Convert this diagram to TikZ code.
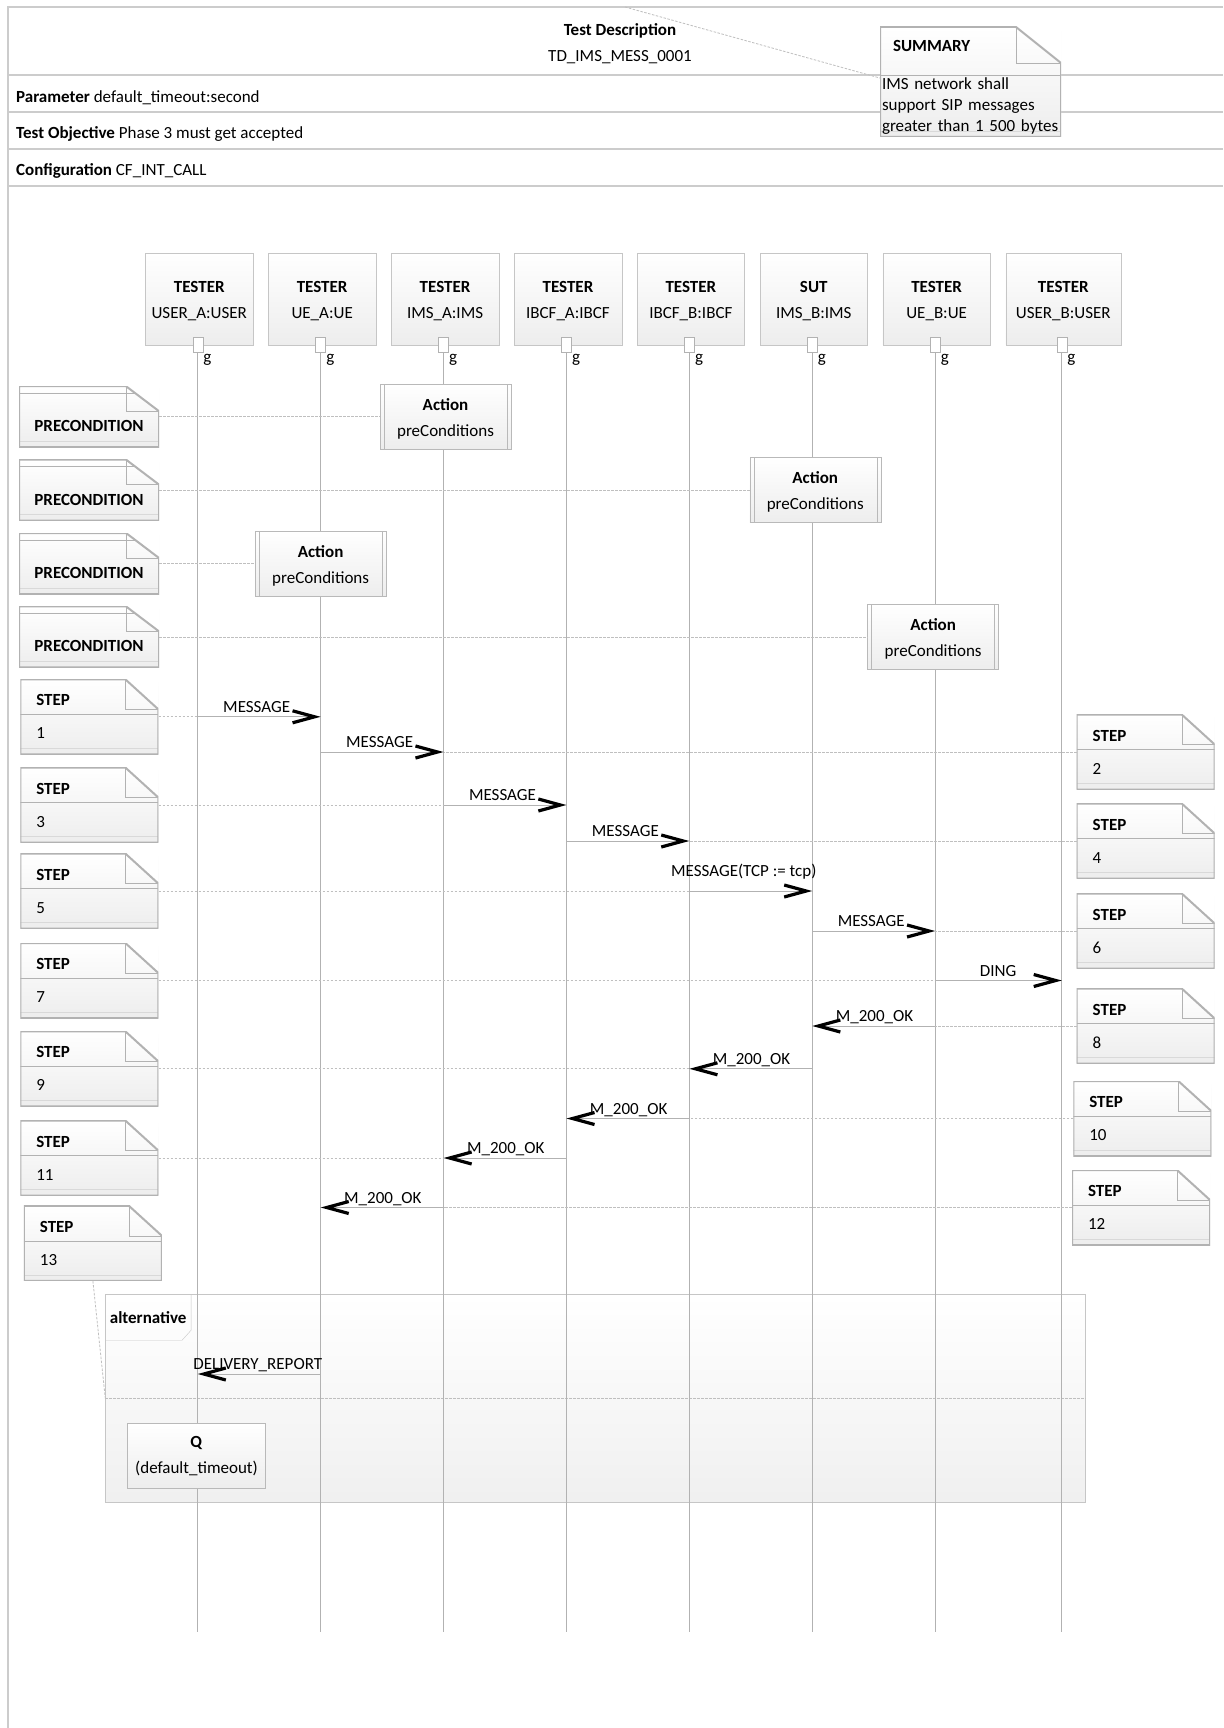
\documentclass[tikz,border=0pt]{standalone}
\usepackage{fontspec}
\setmainfont{Carlito}
\usetikzlibrary{arrows.meta,positioning}

\begin{document}
\begin{tikzpicture}[x=1pt, y=-1pt,
    font=\fontsize{17}{26}\selectfont,
    rowline/.style={draw=gray!40, line width=1.2pt},
    life/.style={rectangle, draw=gray!45, top color=white, bottom color=gray!14, minimum width=107.5pt, minimum height=92pt, inner sep=0pt, align=center, text height=41pt},
    port/.style={rectangle, draw=gray!60, fill=white, minimum width=10pt, minimum height=15pt, inner sep=0pt, label={[anchor=north west, inner sep=1pt]-60:g}},
    lifeline/.style={draw=gray!60, line width=0.8pt},
    action/.style={rectangle, draw=gray!55, top color=white, bottom color=gray!14, minimum width=131pt, minimum height=65pt, inner sep=0pt, align=center, text height=42pt,
        path picture={\draw[gray!55] ([xshift=4pt]path picture bounding box.north west) -- ([xshift=4pt]path picture bounding box.south west)
            ([xshift=-4pt]path picture bounding box.north east) -- ([xshift=-4pt]path picture bounding box.south east);}},
    qbox/.style={rectangle, draw=gray!55, top color=white, bottom color=gray!14, minimum width=138pt, minimum height=65pt, inner sep=0pt, align=center},
    altbox/.style={rectangle, draw=gray!45, top color=white, bottom color=gray!12, minimum width=980pt, minimum height=208pt},
    note/.style n args={3}{rectangle, top color=white, bottom color=gray!14, inner sep=0pt,
        path picture={
            \coordinate (pnw) at (path picture bounding box.north west);
            \coordinate (pne) at (path picture bounding box.north east);
            \coordinate (pse) at (path picture bounding box.south east);
            \coordinate (psw) at (path picture bounding box.south west);
            \draw[gray!60] ([yshift=-#1]pnw) -- ([yshift=-#1]pne);
            \draw[gray!30] ([yshift=6pt]psw) -- ([yshift=6pt]pse);
            \fill[white] ([xshift=-#2]pne) -- (pne) -- ([yshift=-#3]pne) -- cycle;
            \draw[gray!60, line width=2pt] (pnw) -- ([xshift=-#2]pne) -- ([yshift=-#3]pne) -- (pse) -- (psw) -- cycle;
            \draw[gray!60] ([xshift=-#2]pne) |- ([yshift=-#3]pne);
        }},
    stepnote/.style={note={35pt}{33pt}{30pt}, minimum width=137.5pt, minimum height=75pt, align=left, text width=106pt, inner xsep=16pt},
    precond/.style={note={7pt}{33pt}{25pt}, minimum width=140pt, minimum height=61pt, text height=33pt, text depth=3pt},
    link/.style={draw=gray!50, line width=0.8pt, dash pattern=on 2.5pt off 1.5pt},
    msg/.style={draw=gray!60, line width=1pt, -{Straight Barb[length=22pt, width=12pt, line width=3.2pt, color=black]}},
    fwd/.style={anchor=base east, inner sep=0pt, xshift=-30pt, yshift=4.5pt},
    bwd/.style={anchor=base west, inner sep=0pt, xshift=23pt, yshift=4.5pt}
]
    \fill[white] (0,0) rectangle (1223,1728);
    \useasboundingbox (0,0) rectangle (1223,1728);

    \draw[rowline] (1223,7) -- (8,7) -- (8,1728);
    \draw[rowline] (8,75) -- (1223,75);
    \draw[rowline] (8,112) -- (1223,112);
    \draw[rowline] (8,149) -- (1223,149);
    \draw[rowline] (8,186) -- (1223,186);

    \node (title) [align=center] at (620,43.5) {\textbf{Test Description}\\TD\_IMS\_MESS\_0001};
    \node (par) [anchor=base west, inner sep=0pt] at (16,102.5) {\textbf{Parameter} default\_timeout:second};
    \node (obj) [anchor=base west, inner sep=0pt] at (16,138.5) {\textbf{Test Objective} Phase 3 must get accepted};
    \node (cfg) [anchor=base west, inner sep=0pt] at (16,175.5) {\textbf{Configuration} CF\_INT\_CALL};

    \node (sum) [note={48pt}{45pt}{36pt}, minimum width=181pt, minimum height=110pt, inner xsep=2pt, text width=177pt, align=left, text height=21pt, font=\fontsize{17}{21}\selectfont] at (970.5,82) {\hspace*{11pt}\textbf{SUMMARY}\\[17pt]IMS network shall\\support SIP messages\\greater than 1 500 bytes};
    \coordinate (top) at (625,7);
    \draw[link] (top) -- ([yshift=4pt]sum.west);

    \node (l1) [life] at (199.25,298.8) {\textbf{TESTER}\\USER\_A:USER};
    \node (l2) [life, right=15pt of l1] {\textbf{TESTER}\\UE\_A:UE};
    \node (l3) [life, right=15pt of l2] {\textbf{TESTER}\\IMS\_A:IMS};
    \node (l4) [life, right=15pt of l3] {\textbf{TESTER}\\IBCF\_A:IBCF};
    \node (l5) [life, right=15pt of l4] {\textbf{TESTER}\\IBCF\_B:IBCF};
    \node (l6) [life, right=15pt of l5] {\textbf{SUT}\\IMS\_B:IMS};
    \node (l7) [life, right=15pt of l6] {\textbf{TESTER}\\UE\_B:UE};
    \node (l8) [life, right=15pt of l7, minimum width=115pt] {\textbf{TESTER}\\USER\_B:USER};

    \node (g1) [port] at ([xshift=-1.5pt]l1.south) {};
    \node (g2) [port] at ([xshift=-1.5pt]l2.south) {};
    \node (g3) [port] at ([xshift=-1.5pt]l3.south) {};
    \node (g4) [port] at ([xshift=-1.5pt]l4.south) {};
    \node (g5) [port] at ([xshift=-1.5pt]l5.south) {};
    \node (g6) [port] at ([xshift=-1.5pt]l6.south) {};
    \node (g7) [port] at ([xshift=-1.5pt]l7.south) {};
    \node (g8) [port] at ([xshift=-1.5pt]l8.south) {};

    \node (alt) [altbox] at (595.5,1398.3) {};
    \node (alttab) [anchor=north west, minimum width=85.4pt, minimum height=45.7pt, inner sep=0pt] at (alt.north west) {\textbf{alternative}};
    \draw[gray!45] (alttab.north east) -- ([yshift=10pt]alttab.south east) -- ([xshift=-9pt]alttab.south east) -- (alttab.south west);
    \draw[link] (alt.west) -- (alt.east);

    \coordinate (lend) at (0,1632);
    \draw[lifeline] (g1.south) -- (g1 |- lend);
    \draw[lifeline] (g2.south) -- (g2 |- lend);
    \draw[lifeline] (g3.south) -- (g3 |- lend);
    \draw[lifeline] (g4.south) -- (g4 |- lend);
    \draw[lifeline] (g5.south) -- (g5 |- lend);
    \draw[lifeline] (g6.south) -- (g6 |- lend);
    \draw[lifeline] (g7.south) -- (g7 |- lend);
    \draw[lifeline] (g8.south) -- (g8 |- lend);

    \node (p1) [precond] at (89,416.7) {\textbf{PRECONDITION}};
    \node (p2) [precond, below=12pt of p1] {\textbf{PRECONDITION}};
    \node (p3) [precond, below=12pt of p2] {\textbf{PRECONDITION}};
    \node (p4) [precond, below=12pt of p3] {\textbf{PRECONDITION}};

    \node (a1) [action] at ([xshift=2pt]g3 |- p1) {\textbf{Action}\\preConditions};
    \node (a2) [action] at ([xshift=3pt]g6 |- p2) {\textbf{Action}\\preConditions};
    \node (a3) [action] at (g2 |- p3) {\textbf{Action}\\preConditions};
    \node (a4) [action] at ([xshift=-2pt]g7 |- p4) {\textbf{Action}\\preConditions};
    \draw[link] (p1) -- (a1);
    \draw[link] (p2) -- (a2);
    \draw[link] (p3) -- (a3);
    \draw[link] (p4) -- (a4);

    \node (s1) [stepnote] at (89.3,716.8) {\textbf{STEP}\\[7pt]1};
    \node (s2) [stepnote] at (1145.7,752) {\textbf{STEP}\\[7pt]2};
    \node (s3) [stepnote] at (89.3,805) {\textbf{STEP}\\[7pt]3};
    \node (s4) [stepnote] at (1145.7,841) {\textbf{STEP}\\[7pt]4};
    \node (s5) [stepnote] at (89.3,891) {\textbf{STEP}\\[7pt]5};
    \node (s6) [stepnote] at (1145.7,931) {\textbf{STEP}\\[7pt]6};
    \node (s7) [stepnote] at (89.3,980.5) {\textbf{STEP}\\[7pt]7};
    \node (s8) [stepnote] at (1145.7,1026) {\textbf{STEP}\\[7pt]8};
    \node (s9) [stepnote] at (89.3,1068.8) {\textbf{STEP}\\[7pt]9};
    \node (s10) [stepnote] at (1142.3,1118.5) {\textbf{STEP}\\[7pt]10};
    \node (s11) [stepnote] at (89.3,1158) {\textbf{STEP}\\[7pt]11};
    \node (s12) [stepnote] at (1141,1207.5) {\textbf{STEP}\\[7pt]12};
    \node (s13) [stepnote] at (92.9,1243.3) {\textbf{STEP}\\[7pt]13};

    \draw[link] (s1) -- (g1 |- s1);
    \draw[msg] (g1 |- s1) -- (g2 |- s1) node[fwd] {MESSAGE};
    \draw[link] (s2) -- (g3 |- s2);
    \draw[msg] (g2 |- s2) -- (g3 |- s2) node[fwd] {MESSAGE};
    \draw[link] (s3) -- (g3 |- s3);
    \draw[msg] (g3 |- s3) -- (g4 |- s3) node[fwd] {MESSAGE};
    \draw[link] (s4) -- (g5 |- s4);
    \draw[msg] (g4 |- s4) -- (g5 |- s4) node[fwd] {MESSAGE};
    \draw[link] (s5) -- (g5 |- s5);
    \draw[msg] (g5 |- s5) -- node[anchor=base, inner sep=0pt, xshift=-7pt, yshift=14.5pt] {MESSAGE(TCP := tcp)} (g6 |- s5);
    \draw[link] (s6) -- (g7 |- s6);
    \draw[msg] (g6 |- s6) -- (g7 |- s6) node[fwd] {MESSAGE};
    \draw[link] (s7) -- (g7 |- s7);
    \draw[msg] (g7 |- s7) -- (g8 |- s7) node[fwd, xshift=-15pt] {DING};
    \draw[link] (s8) -- (g7 |- s8);
    \draw[msg] (g7 |- s8) -- (g6 |- s8) node[bwd] {M\_200\_OK};
    \draw[link] (s9) -- (g5 |- s9);
    \draw[msg] (g6 |- s9) -- (g5 |- s9) node[bwd] {M\_200\_OK};
    \draw[link] (s10) -- (g5 |- s10);
    \draw[msg] (g5 |- s10) -- (g4 |- s10) node[bwd] {M\_200\_OK};
    \draw[link] (s11) -- (g3 |- s11);
    \draw[msg] (g4 |- s11) -- (g3 |- s11) node[bwd] {M\_200\_OK};
    \draw[link] (s12) -- (g3 |- s12);
    \draw[msg] (g3 |- s12) -- (g2 |- s12) node[bwd] {M\_200\_OK};

    \coordinate (dr) at (0,1374);
    \draw[msg] (g2 |- dr) node[anchor=base east, inner sep=0pt, xshift=2pt, yshift=4.5pt] {DELIVERY\_REPORT} -- (g1 |- dr);
    \draw[link] (s13.south) -- (alt.west);

    \node (q) [qbox] at (196.5,1455.8) {\textbf{Q}\\(default\_timeout)};
\end{tikzpicture}
\end{document}
